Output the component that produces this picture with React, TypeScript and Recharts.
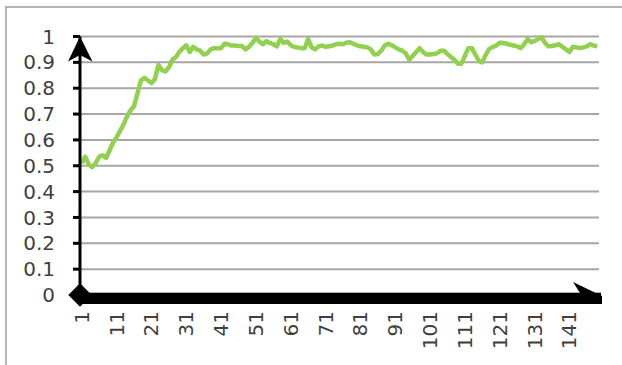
import React from 'react';
import { LineChart, Line, XAxis, YAxis, CartesianGrid, ReferenceLine } from 'recharts';

const accuracy = [
  0.51, 0.535, 0.505, 0.495, 0.51, 0.535, 0.54, 0.53, 0.56, 0.59,
  0.61, 0.635, 0.66, 0.69, 0.715, 0.73, 0.78, 0.83, 0.84, 0.83,
  0.82, 0.835, 0.89, 0.87, 0.865, 0.88, 0.91, 0.92, 0.94, 0.955,
  0.966, 0.94, 0.96, 0.95, 0.945, 0.93, 0.935, 0.95, 0.955, 0.955,
  0.955, 0.972, 0.97, 0.965, 0.965, 0.963, 0.963, 0.95, 0.96, 0.975,
  0.995, 0.98, 0.97, 0.982, 0.975, 0.97, 0.962, 0.99, 0.975, 0.98,
  0.966, 0.96, 0.957, 0.955, 0.955, 0.99, 0.958, 0.95, 0.962, 0.965,
  0.96, 0.962, 0.965, 0.97, 0.972, 0.97, 0.976, 0.978, 0.972, 0.966,
  0.962, 0.96, 0.958, 0.95, 0.93, 0.932, 0.945, 0.965, 0.972, 0.966,
  0.958, 0.95, 0.945, 0.935, 0.91, 0.925, 0.94, 0.955, 0.94, 0.93,
  0.93, 0.932, 0.935, 0.945, 0.945, 0.932, 0.92, 0.91, 0.895, 0.895,
  0.925, 0.955, 0.955, 0.93, 0.905, 0.9, 0.93, 0.952, 0.96, 0.965,
  0.976, 0.975, 0.972, 0.968, 0.965, 0.962, 0.955, 0.97, 0.99, 0.978,
  0.982, 0.99, 0.997, 0.975, 0.962, 0.963, 0.966, 0.97, 0.96, 0.95,
  0.94, 0.96, 0.958, 0.955, 0.958, 0.962, 0.97, 0.965, 0.962,
];

const epochs = accuracy.map((_, i) => i + 1);
const xTicks = [1, 11, 21, 31, 41, 51, 61, 71, 81, 91, 101, 111, 121, 131, 141];
const yTicks = [0, 0.1, 0.2, 0.3, 0.4, 0.5, 0.6, 0.7, 0.8, 0.9, 1];

const data = accuracy.map((v, i) => ({ epoch: epochs[i], value: v }));

const FONT = '"DejaVu Sans", Verdana, sans-serif';

const XTick = (props: any) => {
  const { x, y, payload } = props;
  return (
    <text
      x={x}
      y={y}
      transform={`rotate(-90 ${x} ${y})`}
      textAnchor="end"
      dominantBaseline="central"
      fontSize={20}
      fontFamily={FONT}
      fill="#404040"
    >
      {payload.value}
    </text>
  );
};

const XAxisBar = (p: any) => {
  const { x1, y1, x2 } = p;
  const left = Math.min(x1, x2);
  const right = Math.max(x1, x2);
  const y = y1;
  return (
    <g>
      <rect x={left} y={y - 2.3} width={right - left + 2} height={11.3} fill="#000" />
      <polygon
        points={`${right - 26},${y - 13} ${right + 3},${y + 1} ${right + 3},${y + 9} ${right - 12},${y + 9}`}
        fill="#000"
      />
      <polygon
        points={`${left - 11.7},${y} ${left},${y - 11.7} ${left + 11.7},${y} ${left},${y + 11.7}`}
        fill="#000"
      />
    </g>
  );
};

const YArrow = (p: any) => {
  const { x1, y1, y2 } = p;
  const top = Math.min(y1, y2);
  const x = x1;
  return (
    <polygon
      points={`${x},${top} ${x + 12.5},${top + 25} ${x},${top + 18.5} ${x - 12},${top + 25}`}
      fill="#000"
    />
  );
};

export default function App() {
  return (
    <div style={{ position: 'absolute', left: 0, top: 0, width: 622, height: 365, overflow: 'hidden', background: '#fff' }}>
      <div
        style={{
          position: 'absolute',
          left: 5,
          top: 6,
          width: 617,
          height: 359,
          boxSizing: 'border-box',
          borderTop: '2px solid #b4b4b4',
          borderLeft: '2px solid #b4b4b4',
        }}
      />
      <div style={{ position: 'absolute', left: 0, top: 0 }}>
        <LineChart width={622} height={365} data={data} margin={{ top: 36.5, right: 23, bottom: 10, left: 0 }}>
          <CartesianGrid vertical={false} stroke="#a6a6a6" strokeWidth={2} />
          <XAxis
            dataKey="epoch"
            type="number"
            domain={[0.5, 149.5]}
            ticks={xTicks}
            interval={0}
            height={60}
            tickSize={0}
            tickMargin={16}
            axisLine={false}
            tickLine={false}
            tick={<XTick />}
          />
          <YAxis
            type="number"
            domain={[0, 1]}
            ticks={yTicks}
            interval={0}
            width={80}
            tickSize={7}
            tickMargin={18}
            axisLine={{ stroke: '#000', strokeWidth: 3 }}
            tickLine={{ stroke: '#000', strokeWidth: 3 }}
            tick={{ fontSize: 20, fill: '#404040', fontFamily: FONT }}
            tickFormatter={(v: number) => String(v)}
          />
          <Line
            dataKey="value"
            stroke="#92d050"
            strokeWidth={4.5}
            dot={false}
            strokeLinejoin="round"
            isAnimationActive={false}
          />
          <ReferenceLine y={0} ifOverflow="visible" shape={XAxisBar} />
          <ReferenceLine x={0.5} ifOverflow="visible" shape={YArrow} />
        </LineChart>
      </div>
    </div>
  );
}
